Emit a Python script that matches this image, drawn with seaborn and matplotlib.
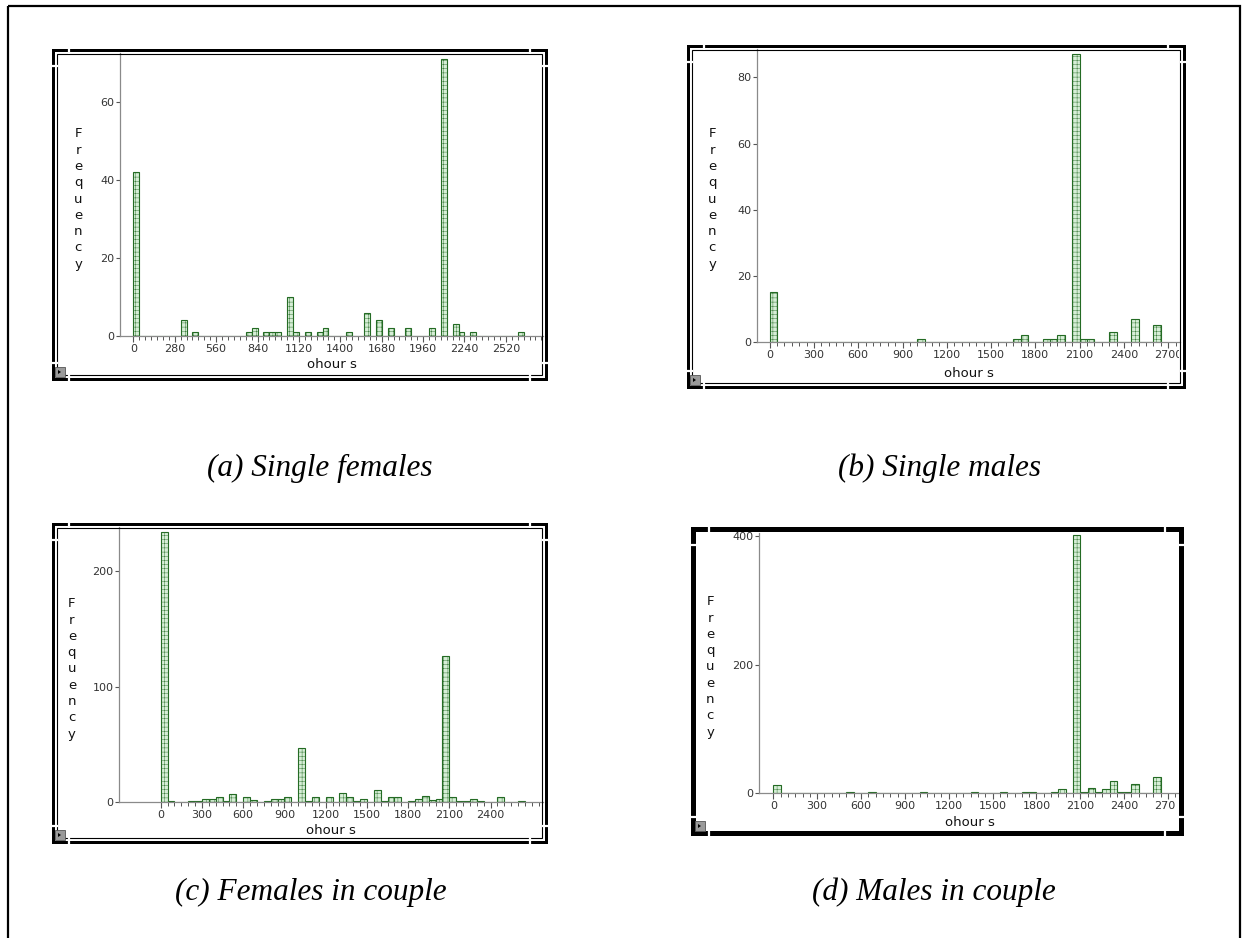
import numpy as np
import pandas as pd
import matplotlib
matplotlib.use("Agg")
import matplotlib.pyplot as plt
from matplotlib.patches import Rectangle, Polygon
import seaborn as sns

# datos (inicio de cada clase de horas, frecuencia)
hours_a = [0, 320, 400, 760, 800, 880, 920, 960, 1040, 1080, 1160, 1240, 1280, 1440,
           1560, 1640, 1720, 1840, 2000, 2080, 2160, 2200, 2280, 2600]
freq_a = [42, 4, 1, 1, 2, 1, 1, 1, 10, 1, 1, 1, 2, 1, 6, 4, 2, 2, 2, 71, 3, 1, 1, 1]

hours_b = [0, 1000, 1650, 1700, 1850, 1900, 1950, 2050, 2100, 2150, 2300, 2450, 2600]
freq_b = [15, 1, 1, 2, 1, 1, 2, 87, 1, 1, 3, 7, 5]

hours_c = [0, 50, 200, 250, 300, 350, 400, 450, 500, 600, 650, 750, 800, 850, 900,
           1000, 1050, 1100, 1200, 1300, 1350, 1400, 1450, 1550, 1600, 1650, 1700,
           1800, 1850, 1900, 1950, 2000, 2050, 2100, 2150, 2200, 2250, 2300, 2450, 2600]
freq_c = [234, 1, 1, 1, 3, 3, 4, 1, 7, 4, 2, 1, 3, 3, 4, 47, 1, 4, 4, 8, 4, 1, 3,
          10, 1, 4, 4, 1, 3, 5, 2, 3, 127, 4, 1, 1, 3, 1, 4, 1]

hours_d = [0, 500, 650, 1000, 1350, 1550, 1700, 1750, 1900, 1950, 2050, 2100, 2150,
           2200, 2250, 2300, 2350, 2400, 2450, 2600]
freq_d = [12, 1, 1, 1, 1, 1, 1, 1, 1, 6, 402, 2, 8, 2, 6, 18, 1, 1, 14, 25]

captions = ["(a) Single females", "(b) Single males", "(c) Females in couple", "(d) Males in couple"]

sns.set_theme(style="white")
plt.rcParams["font.family"] = ["DejaVu Sans"]
plt.rcParams["hatch.linewidth"] = 0.3

W, H = 1244, 938
fig = plt.figure(figsize=(W / 100, H / 100), dpi=100)

# configuracion de cada panel: datos, ancho de clase, rectangulo en pixeles, limites, ticks
paneles = [
    dict(x=hours_a, y=freq_a, bw=40, box=(120, 53, 543, 336), xlim=(-90, 2771), ylim=72.5,
         major=280, xmax=2520, yt=[0, 20, 40, 60], ylab=(-0.099, 0.484), xlab=-0.102,
         frame=(53, 50, 546, 379), flw=3, inner=True, cap=(320, 468)),
    dict(x=hours_b, y=freq_b, bw=50, box=(757, 49, 1180, 342), xlim=(-86, 2780), ylim=88.6,
         major=300, xmax=2700, yt=[0, 20, 40, 60, 80], ylab=(-0.106, 0.488), xlab=-0.106,
         frame=(688, 46, 1184, 387), flw=3, inner=True, cap=(940, 468)),
    dict(x=hours_c, y=freq_c, bw=50, box=(119, 527, 543, 802), xlim=(-303, 2781), ylim=238.5,
         major=300, xmax=2400, yt=[0, 100, 200], ylab=(-0.111, 0.484), xlab=-0.102,
         frame=(53, 524, 546, 842), flw=3, inner=True, cap=(311, 892)),
    dict(x=hours_d, y=freq_d, bw=50, box=(759, 533, 1180, 793), xlim=(-98, 2782), ylim=405,
         major=300, xmax=2700, yt=[0, 200, 400], ylab=(-0.116, 0.485), xlab=-0.115,
         frame=(693, 529, 1181, 833), flw=5, inner=False, cap=(934, 892)),
]

for p in paneles:
    x0, y0, x1, y1 = p["box"]
    ax = fig.add_axes([x0 / W, 1 - y1 / H, (x1 - x0) / W, (y1 - y0) / H])
    df = pd.DataFrame({"hours": p["x"], "freq": p["y"]})
    sns.histplot(data=df, x="hours", weights="freq", binwidth=p["bw"],
                 binrange=(0, max(p["x"]) + p["bw"]), ax=ax, color="#d6eed6",
                 edgecolor="#246b24", linewidth=0.8, hatch="++++", alpha=1.0)
    ax.set_xlim(*p["xlim"])
    ax.set_ylim(0, p["ylim"])
    ax.set_xticks(np.arange(0, p["xmax"] + 1, p["major"]))
    ax.set_xticks(np.arange(0, p["xlim"][1], p["bw"]), minor=True)
    ax.set_yticks(p["yt"])
    for s in ["top", "right"]:
        ax.spines[s].set_visible(False)
    for s in ["left", "bottom"]:
        ax.spines[s].set_color("#8a8a8a")
        ax.spines[s].set_linewidth(0.9)
    ax.tick_params(axis="x", which="major", length=4, width=0.8, color="#555555",
                   labelsize=8, labelcolor="#333333", pad=2, bottom=True)
    ax.tick_params(axis="x", which="minor", length=3, width=0.7, color="#555555", bottom=True)
    ax.tick_params(axis="y", which="major", length=3, width=0.8, color="#555555",
                   labelsize=8, labelcolor="#333333", pad=1, left=True)
    ax.set_xlabel("ohour s", fontsize=9.5, color="#111111", va="center")
    ax.xaxis.set_label_coords(0.5, p["xlab"])
    ax.set_ylabel("\n".join("Frequency"), rotation=0, fontsize=9.5, color="#111111",
                  ha="center", va="center", linespacing=1.33)
    ax.yaxis.set_label_coords(*p["ylab"])
    ax.set_facecolor("white")
    # la etiqueta 2700 queda cortada por el marco como en el original
    for t in ax.get_xticklabels():
        t.set_clip_on(True)
        t.set_clip_box(matplotlib.transforms.Bbox.from_extents(0, 0, (p["frame"][2] - 5), H))

# capa superior en pixeles: marcos, botones y leyendas
ov = fig.add_axes([0, 0, 1, 1], zorder=10)
ov.set_xlim(0, W)
ov.set_ylim(H, 0)
ov.axis("off")

ov.add_patch(Rectangle((8, 6), 1232, 950, fill=False, edgecolor="black", linewidth=1.6))

for p in paneles:
    fx0, fy0, fx1, fy1 = p["frame"]
    ov.add_patch(Rectangle((fx0, fy0), fx1 - fx0, fy1 - fy0, fill=False,
                           edgecolor="black", linewidth=p["flw"] * 0.72))
    if p["inner"]:
        ov.add_patch(Rectangle((fx0 + 4, fy0 + 4), fx1 - fx0 - 8, fy1 - fy0 - 8, fill=False,
                               edgecolor="black", linewidth=0.8))
    # pequenas marcas blancas cerca de las esquinas
    g = p["flw"] + 6
    for cx in (fx0 + 16, fx1 - 16):
        for cy in (fy0, fy1):
            ov.plot([cx, cx], [cy - g / 2, cy + g / 2], color="white", lw=1.6,
                    solid_capstyle="butt")
    for cy in (fy0 + 16, fy1 - 16):
        for cx in (fx0, fx1):
            ov.plot([cx - g / 2, cx + g / 2], [cy, cy], color="white", lw=1.6,
                    solid_capstyle="butt")
    # boton gris en la esquina inferior izquierda
    ov.add_patch(Rectangle((fx0 + 2, fy1 - 12), 10, 10, facecolor="#9a9a9a",
                           edgecolor="#555555", linewidth=0.6))
    ov.add_patch(Polygon([(fx0 + 5, fy1 - 9), (fx0 + 5, fy1 - 5), (fx0 + 8, fy1 - 7)],
                         closed=True, facecolor="black", edgecolor="none"))

for p, cap in zip(paneles, captions):
    ov.text(p["cap"][0], p["cap"][1], cap, ha="center", va="center", fontsize=22.5,
            family="Liberation Serif", style="italic", color="black")

fig.savefig("out.png", dpi=100)
